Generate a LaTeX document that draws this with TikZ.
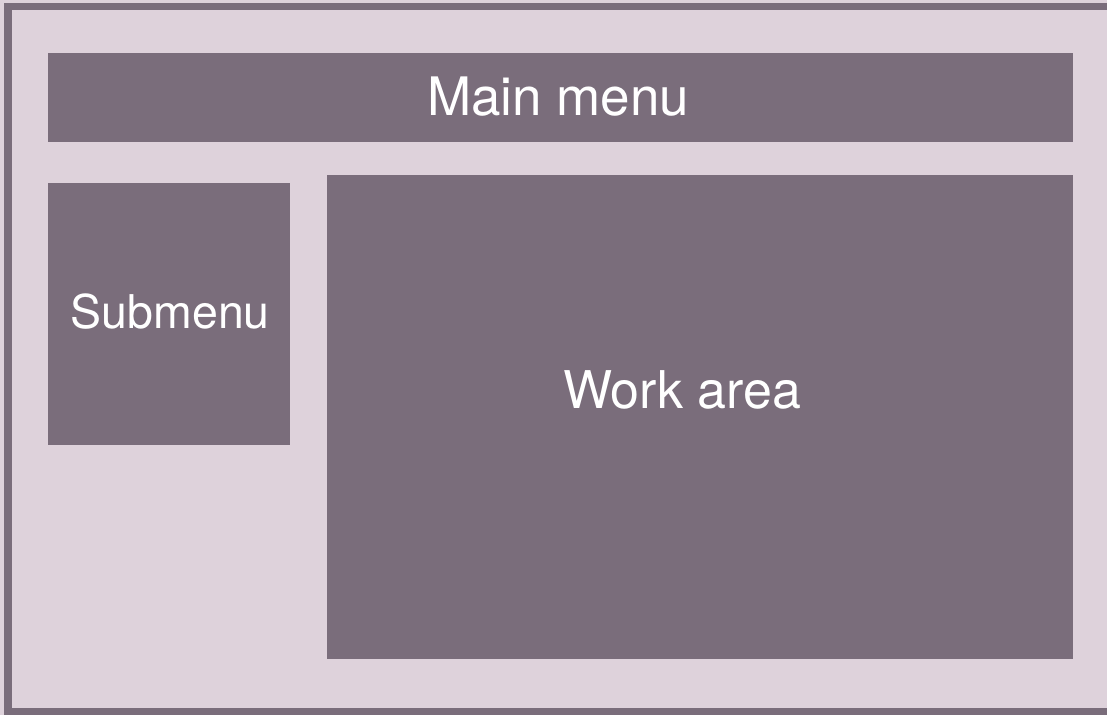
\documentclass[tikz,border=0pt]{standalone}
\usepackage{fontspec}
\setmainfont{TeX Gyre Heros}
\usetikzlibrary{math}
\definecolor{screenbg}{HTML}{DED2DB}
\definecolor{panelfill}{HTML}{7A6D7B}

\begin{document}
\begin{tikzpicture}[x=1pt, y=-1pt,
    panel/.style={fill=panelfill, draw=none, inner sep=0pt, anchor=north west},
    paneltext/.style={text=white, inner sep=0pt}]
  \tikzmath{%
    \pagew = 1107; \pageh = 715;
    \leftx = 48; \rightx = 1073;
    \menutop = 53; \menuh = 89;
    \subright = 290; \subtop = 183; \subbot = 445;
    \workleft = 327; \worktop = 175; \workbot = 659;
  }

  \useasboundingbox (0,0) rectangle (\pagew,\pageh);
  \clip (0,0) rectangle (\pagew,\pageh);
  \fill[screenbg] (0,0) rectangle (\pagew,\pageh);
  \draw[panelfill, line width=7.5pt] (8,6.5) rectangle (\pagew+20,711.5);

  \node[panel, minimum width=\rightx-\leftx, minimum height=\menuh] (mainmenu) at (\leftx,\menutop) {};
  \node[panel, minimum width=\subright-\leftx, minimum height=\subbot-\subtop] (submenu) at (\leftx,\subtop) {};
  \node[panel, minimum width=\rightx-\workleft, minimum height=\workbot-\worktop] (workarea) at (\workleft,\worktop) {};

  \node[paneltext, font=\fontsize{53}{60}\selectfont] (mainlabel) at ([xshift=-2.5pt, yshift=1.5pt]mainmenu.center) {Main menu};
  \node[paneltext, font=\fontsize{46.5}{54}\selectfont] (sublabel) at ([xshift=1pt, yshift=3pt]submenu.center) {Submenu};
  \node[paneltext, font=\fontsize{52}{60}\selectfont] (worklabel) at ([xshift=-18pt, yshift=27pt]workarea.center) {Work area};
\end{tikzpicture}
\end{document}
